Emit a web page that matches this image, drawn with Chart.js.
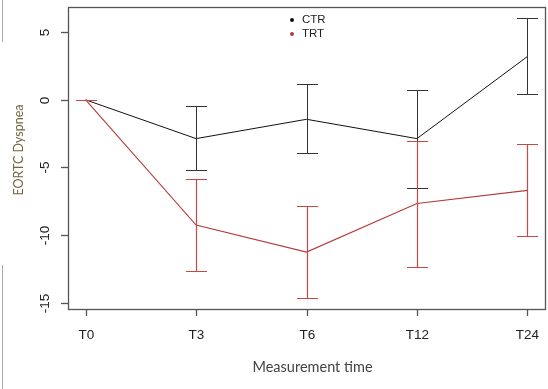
<!DOCTYPE html>
<html lang="en">
<head>
<meta charset="UTF-8">
<title>EORTC Dyspnea by measurement time</title>
<script src="https://cdn.jsdelivr.net/npm/chart.js"></script>
<style>
  html, body { margin: 0; padding: 0; background: #fff; }
  #wrap { width: 548px; height: 389px; position: relative; }
</style>
</head>
<body>
<div id="wrap"><canvas id="chart"></canvas></div>
<script>
// data
const times = ['T0', 'T3', 'T6', 'T12', 'T24'];
const ctrMean  = [0, -2.87, -1.44, -2.87, 3.20];
const ctrLower = [0, -5.22, -3.91, -6.50, 0.41];
const ctrUpper = [0, -0.46, 1.15, 0.73, 6.04];
const trtMean  = [0, -9.27, -11.27, -7.67, -6.70];
const trtLower = [0, -12.70, -14.65, -12.36, -10.09];
const trtUpper = [0, -5.89, -7.87, -3.05, -3.24];
const yTicks = [-15, -10, -5, 0, 5];

const CTR_COL = '#111111';
const TRT_COL = '#b8393a';
const AXIS_COL = '#555555';

const pts = arr => arr.map((v, i) => ({ x: i, y: v }));

// R style frame, ticks, labels, error bars and legend
const rPlot = {
  id: 'rPlot',
  afterDatasetsDraw(chart) {
    const { ctx, chartArea: a, scales: { x, y } } = chart;
    ctx.save();

    // error bars (TRT drawn last so it sits on top)
    const bars = [
      { lo: ctrLower, hi: ctrUpper, col: '#333333', w: 1 },
      { lo: trtLower, hi: trtUpper, col: '#c44a4a', w: 1.2 }
    ];
    bars.forEach(b => {
      ctx.strokeStyle = b.col;
      ctx.lineWidth = b.w;
      times.forEach((t, i) => {
        const px = Math.round(x.getPixelForValue(i)) + 0.5;
        const y1 = Math.round(y.getPixelForValue(b.lo[i])) + 0.5;
        const y2 = Math.round(y.getPixelForValue(b.hi[i])) + 0.5;
        ctx.beginPath();
        ctx.moveTo(px, y1); ctx.lineTo(px, y2);
        ctx.moveTo(px - 10.5, y1); ctx.lineTo(px + 10.5, y1);
        ctx.moveTo(px - 10.5, y2); ctx.lineTo(px + 10.5, y2);
        ctx.stroke();
      });
    });

    // box
    ctx.strokeStyle = AXIS_COL;
    ctx.lineWidth = 1.3;
    ctx.strokeRect(a.left + 0.5, a.top + 0.5, a.right - a.left, a.bottom - a.top);

    // x ticks
    ctx.fillStyle = '#222';
    ctx.font = '13.5px "Liberation Sans", Arial, sans-serif';
    ctx.textAlign = 'center';
    ctx.textBaseline = 'middle';
    times.forEach((t, i) => {
      const px = Math.round(x.getPixelForValue(i)) + 0.5;
      ctx.beginPath();
      ctx.moveTo(px, a.bottom); ctx.lineTo(px, a.bottom + 7);
      ctx.stroke();
      ctx.fillText(t, px, 335);
    });

    // y ticks, labels rotated like R
    yTicks.forEach(v => {
      const py = Math.round(y.getPixelForValue(v)) + 0.5;
      ctx.beginPath();
      ctx.moveTo(a.left, py); ctx.lineTo(a.left - 7, py);
      ctx.stroke();
      ctx.save();
      ctx.translate(45, py);
      ctx.rotate(-Math.PI / 2);
      ctx.fillText(String(v), 0, 0);
      ctx.restore();
    });

    // axis titles
    ctx.fillStyle = '#444';
    ctx.font = '14.5px Lato, "Open Sans", sans-serif';
    ctx.fillText('Measurement time', (a.left + a.right) / 2 + 6, 367);
    ctx.save();
    ctx.translate(18.5, 150);
    ctx.rotate(-Math.PI / 2);
    ctx.fillStyle = '#76643f';
    ctx.font = '12.5px Lato, "Open Sans", sans-serif';
    ctx.fillText('EORTC Dyspnea', 0, 0);
    ctx.restore();

    // legend
    ctx.font = '11.5px "Liberation Sans", Arial, sans-serif';
    ctx.textAlign = 'left';
    chart.data.datasets.forEach((ds, i) => {
      const ly = 20 + i * 14;
      ctx.fillStyle = ds.borderColor;
      ctx.beginPath();
      ctx.arc(292, ly, 2, 0, Math.PI * 2);
      ctx.fill();
      ctx.fillStyle = '#222';
      ctx.fillText(ds.label, 302, ly);
    });

    // screenshot edge line
    ctx.strokeStyle = '#aaaaaa';
    ctx.lineWidth = 1;
    ctx.beginPath();
    ctx.moveTo(2.5, 0); ctx.lineTo(2.5, 42);
    ctx.moveTo(2.5, 265); ctx.lineTo(2.5, 389);
    ctx.stroke();

    ctx.restore();
  }
};

new Chart(document.getElementById('chart'), {
  type: 'line',
  data: {
    datasets: [
      { label: 'CTR', data: pts(ctrMean), borderColor: CTR_COL, borderWidth: 1, pointRadius: 0, tension: 0 },
      { label: 'TRT', data: pts(trtMean), borderColor: TRT_COL, borderWidth: 1.1, pointRadius: 0, tension: 0 }
    ]
  },
  options: {
    responsive: true,
    maintainAspectRatio: false,
    animation: false,
    layout: { padding: { left: 68, right: 3, top: 7, bottom: 80 } },
    plugins: { legend: { display: false }, tooltip: { enabled: false } },
    scales: {
      x: { type: 'linear', display: false, min: -0.16, max: 4.16 },
      y: { type: 'linear', display: false, min: -15.48, max: 6.87 }
    }
  },
  plugins: [rPlot]
});
</script>
</body>
</html>
